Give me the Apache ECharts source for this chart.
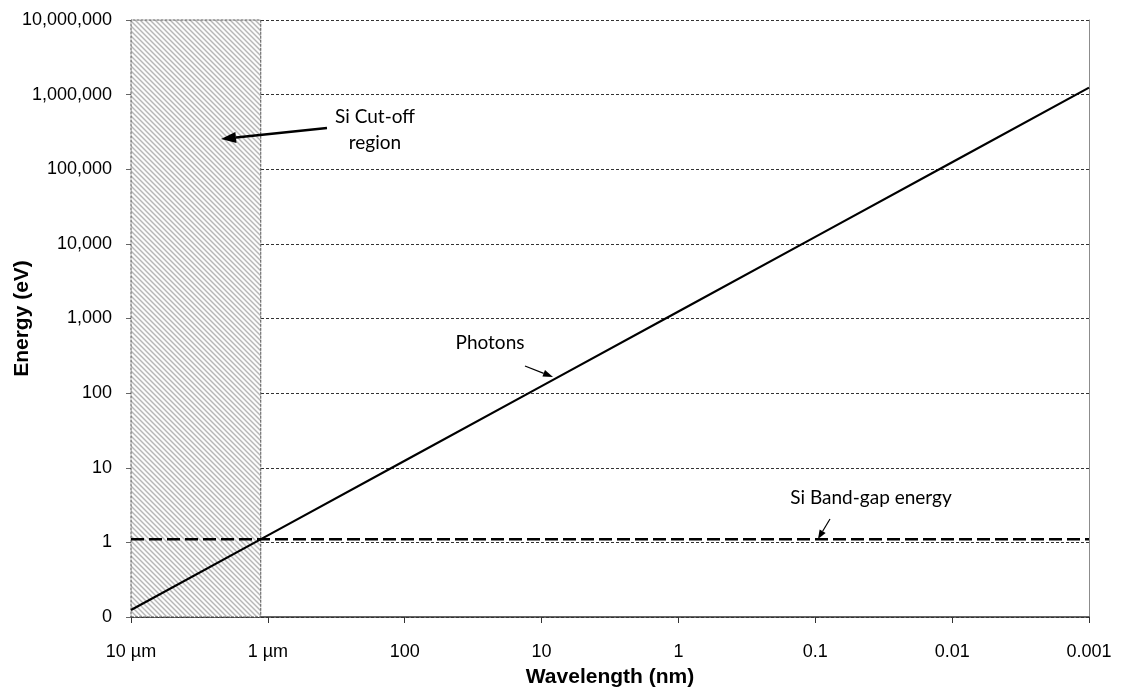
<!DOCTYPE html>
<html>
<head>
<meta charset="utf-8">
<title>Photon energy vs wavelength</title>
<script src="https://cdn.jsdelivr.net/npm/echarts@6/dist/echarts.min.js"></script>
<style>
  html, body { margin: 0; padding: 0; background: #fff; }
  #chart { width: 1121px; height: 691px; }
</style>
</head>
<body>
<div id="chart"></div>
<script>
// wavelengths (nm) and photon energies (eV)
var wavelengths = [10000, 1000, 100, 10, 1, 0.1, 0.01, 0.001];
var photonEnergy = [0.124, 1.24, 12.4, 124, 1240, 12400, 124000, 1240000];

// Si band gap (eV) and its cut-off wavelength (nm)
var bandGapEnergy = [1.1, 1.1];
var bandGapRange = [10000, 0.001];
var cutoffRegion = [10000, 1127];

var chart = echarts.init(document.getElementById('chart'));

// diagonal hatch for the cut-off region
function hatch() {
    var s = 5;
    var c = document.createElement('canvas');
    c.width = s; c.height = s;
    var ctx = c.getContext('2d');
    ctx.fillStyle = '#fcfcfc';
    ctx.fillRect(0, 0, s, s);
    ctx.strokeStyle = '#b6b6b6';
    ctx.lineWidth = 1.4;
    [-s, 0, s].forEach(function (k) {
        ctx.beginPath();
        ctx.moveTo(-1, -1 + k);
        ctx.lineTo(s + 1, s + 1 + k);
        ctx.stroke();
    });
    return c;
}

// line with a filled head at (x2, y2)
function arrow(x1, y1, x2, y2, w, hl, hw) {
    var a = Math.atan2(y2 - y1, x2 - x1);
    var bx = x2 - hl * Math.cos(a), by = y2 - hl * Math.sin(a);
    var px = -Math.sin(a) * hw / 2, py = Math.cos(a) * hw / 2;
    return {
        type: 'group',
        z: 100,
        children: [
            { type: 'line', z: 100, shape: { x1: x1, y1: y1, x2: bx, y2: by },
              style: { stroke: '#000', lineWidth: w } },
            { type: 'polygon', z: 100, shape: { points: [[x2, y2], [bx + px, by + py], [bx - px, by - py]] },
              style: { fill: '#000' } }
        ]
    };
}

var labelFont = 'Lato, "Noto Sans", sans-serif';
var axisFont = 'Liberation Sans, Arial, sans-serif';

chart.setOption({
    backgroundColor: '#fff',
    animation: false,
    grid: { left: 131, right: 32, top: 20, bottom: 74, containLabel: false, outerBoundsMode: 'none' },
    xAxis: {
        type: 'log',
        logBase: 10,
        inverse: true,
        min: 0.001,
        max: 10000,
        splitNumber: 7,
        name: 'Wavelength (nm)',
        nameLocation: 'middle',
        nameGap: 50,
        nameMoveOverlap: false,
        nameTextStyle: { fontFamily: axisFont, fontWeight: 'bold', fontSize: 21, color: '#000' },
        axisLine: { lineStyle: { color: '#333', width: 1.5 } },
        axisTick: { show: true, inside: false, length: 6, lineStyle: { color: '#333' } },
        minorTick: { show: false },
        splitLine: { show: false },
        axisLabel: {
            margin: 26,
            fontFamily: axisFont,
            fontSize: 18,
            color: '#000',
            formatter: function (v) {
                var n = Number(v.toPrecision(6));
                if (n === 10000) return '10 µm';
                if (n === 1000) return '1 µm';
                return String(n);
            }
        }
    },
    yAxis: [{
        type: 'log',
        logBase: 10,
        min: 0.1,
        max: 10000000,
        splitNumber: 8,
        name: 'Energy (eV)',
        nameLocation: 'middle',
        nameGap: 98,
        nameMoveOverlap: false,
        nameTextStyle: { fontFamily: axisFont, fontWeight: 'bold', fontSize: 21, color: '#000' },
        axisLine: { show: true, lineStyle: { color: '#666', width: 1 } },
        axisTick: { show: true, length: 5, lineStyle: { color: '#666' } },
        minorTick: { show: false },
        splitLine: { show: true, lineStyle: { color: '#333', width: 1, type: [3, 2] } },
        axisLabel: {
            margin: 19,
            fontFamily: axisFont,
            fontSize: 18,
            color: '#000',
            formatter: function (v) {
                if (v < 0.99) return '0';
                return Math.round(v).toLocaleString('en-US');
            }
        }
    }, {
        type: 'log',
        logBase: 10,
        min: 0.1,
        max: 10000000,
        position: 'right',
        axisLine: { show: true, lineStyle: { color: '#8c8c8c', width: 1 } },
        axisTick: { show: false },
        axisLabel: { show: false },
        splitLine: { show: false }
    }],
    series: [
        {
            name: 'Si Cut-off region',
            type: 'line',
            data: [],
            silent: true,
            z: 1,
            markArea: {
                silent: true,
                itemStyle: {
                    color: { image: hatch(), repeat: 'repeat' },
                    borderColor: '#555',
                    borderWidth: 1,
                    borderType: [3, 1]
                },
                data: [[{ xAxis: cutoffRegion[0] }, { xAxis: cutoffRegion[1] }]]
            }
        },
        {
            name: 'Si Band-gap energy',
            type: 'line',
            z: 3,
            symbol: 'none',
            data: bandGapRange.map(function (w, i) { return [w, bandGapEnergy[i]]; }),
            lineStyle: { color: '#000', width: 2.5, type: [13, 5] }
        },
        {
            name: 'Photons',
            type: 'line',
            z: 4,
            symbol: 'none',
            data: wavelengths.map(function (w, i) { return [w, photonEnergy[i]]; }),
            lineStyle: { color: '#000', width: 2.2 }
        }
    ],
    graphic: [
        { type: 'text', x: 375, y: 130, z: 100,
          style: { text: 'Si Cut-off\nregion', font: '19px ' + labelFont, fill: '#000',
                   align: 'center', verticalAlign: 'middle', lineHeight: 26 } },
        arrow(327, 128, 221, 139, 2.5, 15, 11),
        { type: 'text', x: 490, y: 343, z: 100,
          style: { text: 'Photons', font: '19px ' + labelFont, fill: '#000',
                   align: 'center', verticalAlign: 'middle' } },
        arrow(525, 366, 553, 377, 1.2, 10, 7),
        { type: 'text', x: 871, y: 498, z: 100,
          style: { text: 'Si Band-gap energy', font: '19px ' + labelFont, fill: '#000',
                   align: 'center', verticalAlign: 'middle' } },
        arrow(830, 519, 818, 539, 1.2, 9, 7)
    ]
});
</script>
</body>
</html>
